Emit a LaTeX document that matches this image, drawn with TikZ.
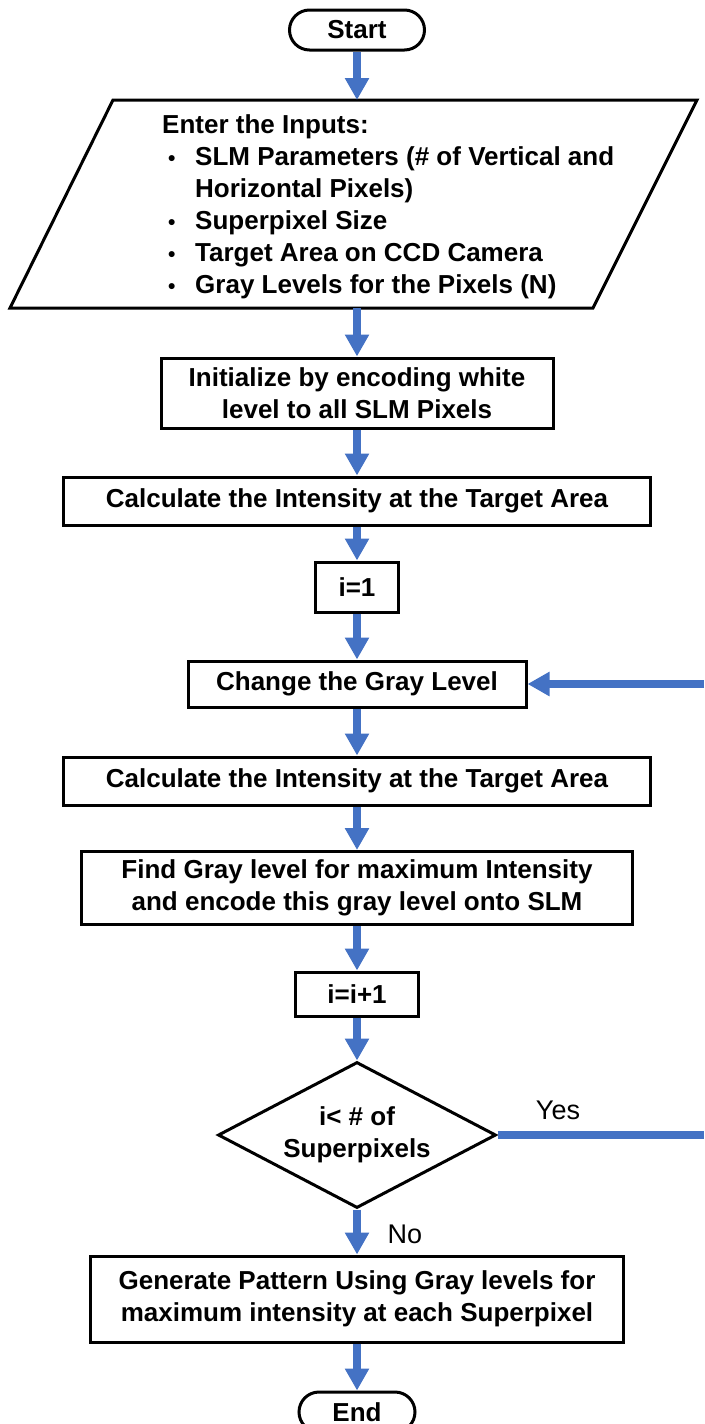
\documentclass[tikz,border=0pt]{standalone}
\usepackage{fontspec}
\setmainfont{Liberation Sans}
\usetikzlibrary{arrows.meta,shapes.geometric}
\definecolor{arrblue}{HTML}{4472C4}
\tikzset{
  box/.style={draw=black, line width=3pt, fill=white, inner sep=0pt, align=center,
    font=\bfseries\fontsize{26}{32}\selectfont},
  term/.style={box, rounded corners=20pt},
  arr/.style={draw=arrblue, line width=8pt, -{Triangle[width=23pt,length=22pt]}},
  plainline/.style={draw=arrblue, line width=8pt},
  lbl/.style={font=\fontsize{27}{32}\selectfont, inner sep=0pt}
}
\newcommand{\bul}{\makebox[33pt][l]{\hspace{6pt}{\fontsize{21}{32}\selectfont•}}}
\begin{document}
\begin{tikzpicture}[x=1pt,y=-1pt]
\useasboundingbox (0,0) rectangle (704,1424);
% terminals and boxes
\node[term, minimum width=135pt, minimum height=40pt] (start) at (357,30) {Start};
% parallelogram
\coordinate (p1) at (113,100);
\coordinate (p2) at (697,100);
\coordinate (p3) at (593,308);
\coordinate (p4) at (10,308);
\coordinate (ptop) at (357,100);
\coordinate (pbot) at (357,308);
\draw[line width=3pt, line join=miter] (p1) -- (p2) -- (p3) -- (p4) -- cycle;
\node[anchor=west, align=left, inner sep=0pt, font=\bfseries\fontsize{26}{32}\selectfont] (inp) at (162,207) {%
Enter the Inputs:\\
\bul SLM Parameters (\# of Vertical and\\
\hspace{33pt}Horizontal Pixels)\\
\bul Superpixel Size\\
\bul Target Area on CCD Camera\\
\bul Gray Levels for the Pixels (N)};
\node[box, minimum width=392pt, minimum height=70pt] (init) at (357,393) {Initialize by encoding white\\level to all SLM Pixels};
\node[box, minimum width=587pt, minimum height=48pt] (calc1) at (357,501) {Calculate the Intensity at the Target Area};
\node[box, minimum width=83pt, minimum height=50pt] (i1) at (357,587) {i=1};
\node[box, minimum width=338pt, minimum height=46pt] (change) at (357,684) {Change the Gray Level};
\node[box, minimum width=587pt, minimum height=48pt] (calc2) at (357,781) {Calculate the Intensity at the Target Area};
\node[box, minimum width=551pt, minimum height=73pt] (find) at (357,888) {Find Gray level for maximum Intensity\\and encode this gray level onto SLM};
\node[box, minimum width=123pt, minimum height=44pt] (inc) at (357,994) {i=i+1};
\node[box, diamond, aspect=1.9, minimum width=278pt, minimum height=146pt] (dec) at (357,1135) {i< \# of\\Superpixels};
\node[box, minimum width=533pt, minimum height=86pt] (gen) at (357,1299) {Generate Pattern Using Gray levels for\\maximum intensity at each Superpixel};
\node[term, minimum width=116pt, minimum height=40pt] (end) at (357,1412) {End};
% labels
\node[lbl] (yes) at (558,1110) {Yes};
\node[lbl] (no) at (405,1234) {No};
% loop ends at right edge
\coordinate (yesend) at (704,1137);
\coordinate (backstart) at (704,684);
% connectors
\draw[arr] (start.south) -- (ptop);
\draw[arr] (pbot) -- (init.north);
\draw[arr] (init.south) -- (calc1.north);
\draw[arr] (calc1.south) -- (i1.north);
\draw[arr] (i1.south) -- (change.north);
\draw[arr] (change.south) -- (calc2.north);
\draw[arr] (calc2.south) -- (find.north);
\draw[arr] (find.south) -- (inc.north);
\draw[arr] (inc.south) -- (dec.north);
\draw[arr] (dec.south) -- (gen.north);
\draw[arr] (gen.south) -- (end.north);
\draw[plainline] (dec.east) -- (dec.east -| yesend);
\draw[arr] (backstart) -- (change.east);
\end{tikzpicture}
\end{document}
